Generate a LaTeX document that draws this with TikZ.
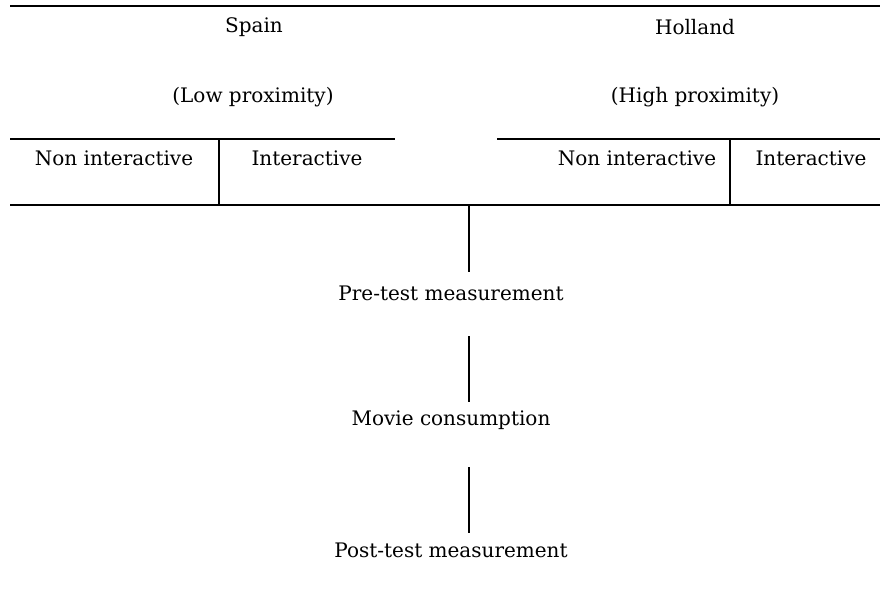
\documentclass[tikz,border=0pt]{standalone}
\usepackage{fontspec}
\setmainfont{DejaVu Serif}
\begin{document}
\begin{tikzpicture}[x=0.75pt,y=-0.75pt,
  lbl/.style={inner sep=0pt,font=\fontsize{15}{18}\selectfont},
  thickrule/.style={line width=1.6pt},
  thinrule/.style={line width=0.8pt},
  midrule/.style={line width=1pt},
  vline/.style={line width=1.3pt}]
\useasboundingbox (0,0) rectangle (880,593);
% rules
\coordinate (tl) at (10,6); \coordinate (tr) at (880,6);
\draw[thickrule] (tl) -- (tr);
\coordinate (l1a) at (10,139); \coordinate (l1b) at (395,139);
\coordinate (r1a) at (497,139); \coordinate (r1b) at (880,139);
\draw[thinrule] (l1a) -- (l1b);
\draw[thinrule] (r1a) -- (r1b);
\coordinate (bl) at (10,205); \coordinate (br) at (880,205);
\draw[midrule] (bl) -- (br);
% column separators
\coordinate (sl1) at (219,139); \coordinate (sl2) at (219,205);
\coordinate (sr1) at (730,139); \coordinate (sr2) at (730,205);
\draw[vline] (sl1) -- (sl2);
\draw[vline] (sr1) -- (sr2);
% headers
\node[lbl] (spain) at (254,27) {Spain};
\node[lbl] (low) at (253,97) {(Low proximity)};
\node[lbl] (holland) at (695,27) {Holland};
\node[lbl] (high) at (695,97) {(High proximity)};
\node[lbl] (sni) at (114,158) {Non interactive};
\node[lbl] (si) at (307,158) {Interactive};
\node[lbl] (hni) at (637,158) {Non interactive};
\node[lbl] (hi) at (811,158) {Interactive};
% flow
\node[lbl] (pre) at (451,293) {Pre-test measurement};
\node[lbl] (movie) at (451,420) {Movie consumption};
\node[lbl] (post) at (451,550) {Post-test measurement};
\coordinate (c0) at (469,205); \coordinate (c1) at (469,272);
\coordinate (c2) at (469,336); \coordinate (c3) at (469,402);
\coordinate (c4) at (469,467); \coordinate (c5) at (469,533);
\draw[vline] (c0) -- (c1);
\draw[vline] (c2) -- (c3);
\draw[vline] (c4) -- (c5);
\end{tikzpicture}
\end{document}
